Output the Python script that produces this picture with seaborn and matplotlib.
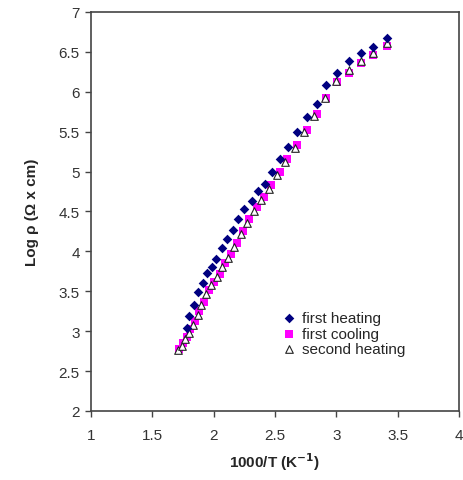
import matplotlib
matplotlib.use("Agg")
import matplotlib.pyplot as plt
import seaborn as sns
import pandas as pd

# first heating
x_fh = [1.78, 1.80, 1.84, 1.87, 1.91, 1.95, 1.99, 2.02, 2.07, 2.11, 2.16, 2.20, 2.25, 2.31,
        2.36, 2.42, 2.48, 2.54, 2.61, 2.68, 2.76, 2.84, 2.92, 3.01, 3.10, 3.20, 3.30, 3.41]
y_fh = [3.04, 3.19, 3.33, 3.49, 3.61, 3.73, 3.81, 3.91, 4.04, 4.16, 4.27, 4.40, 4.53, 4.63,
        4.76, 4.84, 5.00, 5.16, 5.31, 5.50, 5.69, 5.85, 6.08, 6.24, 6.38, 6.48, 6.56, 6.68]
# first cooling
x_fc = [1.72, 1.75, 1.78, 1.81, 1.85, 1.88, 1.92, 1.96, 2.00, 2.05, 2.09, 2.14, 2.19, 2.24, 2.29,
        2.35, 2.41, 2.47, 2.54, 2.60, 2.68, 2.76, 2.84, 2.92, 3.01, 3.10, 3.20, 3.30, 3.41]
y_fc = [2.78, 2.85, 2.93, 3.03, 3.13, 3.25, 3.37, 3.51, 3.62, 3.72, 3.85, 3.97, 4.10, 4.25, 4.40,
        4.55, 4.68, 4.83, 5.00, 5.16, 5.33, 5.52, 5.72, 5.92, 6.12, 6.24, 6.36, 6.46, 6.58]
# second heating
x_sh = [1.71, 1.74, 1.77, 1.80, 1.83, 1.87, 1.90, 1.94, 1.98, 2.03, 2.07, 2.12, 2.17, 2.22, 2.27,
        2.33, 2.39, 2.45, 2.52, 2.58, 2.66, 2.74, 2.82, 2.91, 3.00, 3.10, 3.20, 3.30, 3.41]
y_sh = [2.76, 2.82, 2.90, 2.98, 3.08, 3.20, 3.33, 3.47, 3.58, 3.68, 3.80, 3.92, 4.06, 4.22, 4.36,
        4.50, 4.64, 4.78, 4.96, 5.12, 5.30, 5.50, 5.70, 5.92, 6.14, 6.27, 6.38, 6.48, 6.61]

x_ticks = [1, 1.5, 2, 2.5, 3, 3.5, 4]
x_ticklabels = ["1", "1.5", "2", "2.5", "3", "3.5", "4"]
y_ticks = [2, 2.5, 3, 3.5, 4, 4.5, 5, 5.5, 6, 6.5, 7]
y_ticklabels = ["2", "2.5", "3", "3.5", "4", "4.5", "5", "5.5", "6", "6.5", "7"]

sns.set_style("white")
plt.rcParams['font.family'] = ['Liberation Sans', 'DejaVu Sans']

fig = plt.figure(figsize=(4.64, 4.81), dpi=100)
ax = fig.add_axes([0.196, 0.1435, 0.793, 0.8295])

df_fc = pd.DataFrame({"x": x_fc, "y": y_fc})
df_sh = pd.DataFrame({"x": x_sh, "y": y_sh})
df_fh = pd.DataFrame({"x": x_fh, "y": y_fh})

sns.scatterplot(data=df_fc, x="x", y="y", ax=ax, marker="s", color="#FF00FF",
                s=30, linewidth=0, label="first cooling", zorder=2)
sns.scatterplot(data=df_sh, x="x", y="y", ax=ax, marker="^", facecolor="white",
                edgecolor="#222222", s=30, linewidth=0.8, label="second heating", zorder=3)
sns.scatterplot(data=df_fh, x="x", y="y", ax=ax, marker="D", color="#000080",
                s=24, linewidth=0, label="first heating", zorder=4)

ax.set_xlim(1, 4)
ax.set_ylim(2, 7)
ax.set_xticks(x_ticks)
ax.set_xticklabels(x_ticklabels)
ax.set_yticks(y_ticks)
ax.set_yticklabels(y_ticklabels)
ax.tick_params(axis="both", direction="out", length=4, width=1, color="#444444",
               labelsize=11, labelcolor="#333333", bottom=True, left=True, pad=4)
ax.tick_params(axis="x", pad=8)
for sp in ax.spines.values():
    sp.set_color("#444444")
    sp.set_linewidth(1.2)
    sp.set_visible(True)

ax.set_xlabel("1000/T (K$^{\\mathbf{-1}}$)", fontsize=11, fontweight="bold", labelpad=6)
ax.set_ylabel("Log \u03c1 (\u03a9 x cm)", fontsize=11, fontweight="bold", labelpad=14)

handles, labels = ax.get_legend_handles_labels()
order = [labels.index(l) for l in ["first heating", "first cooling", "second heating"]]
ax.legend([handles[i] for i in order], [labels[i] for i in order],
          loc="upper left", bbox_to_anchor=(0.5, 0.265), frameon=False, fontsize=11,
          handletextpad=0.35, labelspacing=0.1, borderaxespad=0, handlelength=1.0)

fig.savefig("out.png", dpi=100)
